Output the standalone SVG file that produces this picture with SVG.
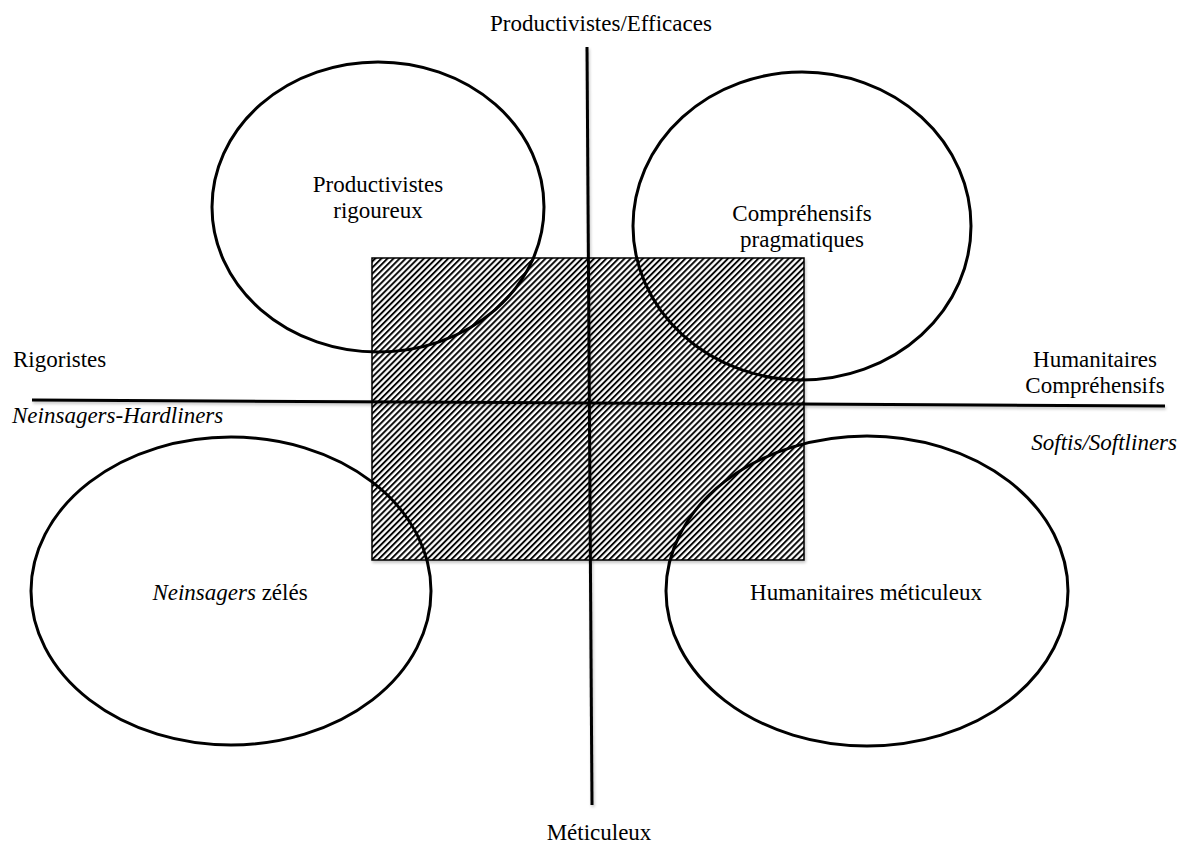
<svg xmlns="http://www.w3.org/2000/svg" width="1188" height="843" viewBox="0 0 1188 843">
  <defs>
    <pattern id="hatch" patternUnits="userSpaceOnUse" width="4.3" height="4.3" patternTransform="rotate(45)">
      <rect x="0" y="0" width="4.3" height="4.3" fill="#ffffff"/>
      <line x1="1" y1="0" x2="1" y2="4.3" stroke="#000000" stroke-width="1.9"/>
    </pattern>
    <filter id="shadow" x="-5%" y="-5%" width="110%" height="120%">
      <feGaussianBlur in="SourceAlpha" stdDeviation="1.5"/>
      <feOffset dx="1" dy="2" result="b"/>
      <feComponentTransfer><feFuncA type="linear" slope="0.25"/></feComponentTransfer>
      <feMerge><feMergeNode/><feMergeNode in="SourceGraphic"/></feMerge>
    </filter>
  </defs>
  <style>
    .ax { stroke: #000; stroke-width: 3; fill: none; stroke-linecap: butt; }
    .ell { stroke: #000; stroke-width: 3; fill: none; }
    .t { font-family: "Liberation Serif", "Times New Roman", serif; font-size: 23px; fill: #000; }
    .i { font-style: italic; }
    .m { text-anchor: middle; }
    .e { text-anchor: end; }
  </style>
  <rect width="1188" height="843" fill="#ffffff"/>

  <g id="zone-centrale">
    <rect x="372" y="258" width="432" height="302" fill="url(#hatch)" stroke="#000" stroke-width="1.5" filter="url(#shadow)"/>
  </g>

  <g id="connectors" filter="url(#shadow)">
    <line class="ax" x1="587" y1="47" x2="592" y2="805"/>
    <line class="ax" x1="32" y1="400" x2="1165" y2="406"/>
  </g>

  <g id="productivistes-rigoureux">
    <ellipse class="ell" cx="378" cy="207" rx="166" ry="145"/>
    <text class="t m" x="378" y="192">Productivistes</text>
    <text class="t m" x="378" y="218">rigoureux</text>
  </g>

  <g id="comprehensifs-pragmatiques">
    <ellipse class="ell" cx="802" cy="226" rx="169" ry="154"/>
    <text class="t m" x="802" y="221">Compréhensifs</text>
    <text class="t m" x="802" y="247">pragmatiques</text>
  </g>

  <g id="neinsagers-zeles">
    <ellipse class="ell" cx="231" cy="591" rx="200" ry="154"/>
    <text class="t m" x="230" y="600"><tspan class="i">Neinsagers</tspan> zélés</text>
  </g>

  <g id="humanitaires-meticuleux">
    <ellipse class="ell" cx="867" cy="591" rx="201" ry="155"/>
    <text class="t m" x="866" y="600">Humanitaires méticuleux</text>
  </g>

  <g id="axis-labels">
    <text class="t m" x="601" y="31">Productivistes/Efficaces</text>
    <text class="t m" x="599" y="840">Méticuleux</text>
    <text class="t" x="13" y="367">Rigoristes</text>
    <text class="t i" x="12" y="423">Neinsagers-Hardliners</text>
    <text class="t m" x="1095" y="367">Humanitaires</text>
    <text class="t m" x="1095" y="393">Compréhensifs</text>
    <text class="t i e" x="1177" y="450">Softis/Softliners</text>
  </g>
</svg>
